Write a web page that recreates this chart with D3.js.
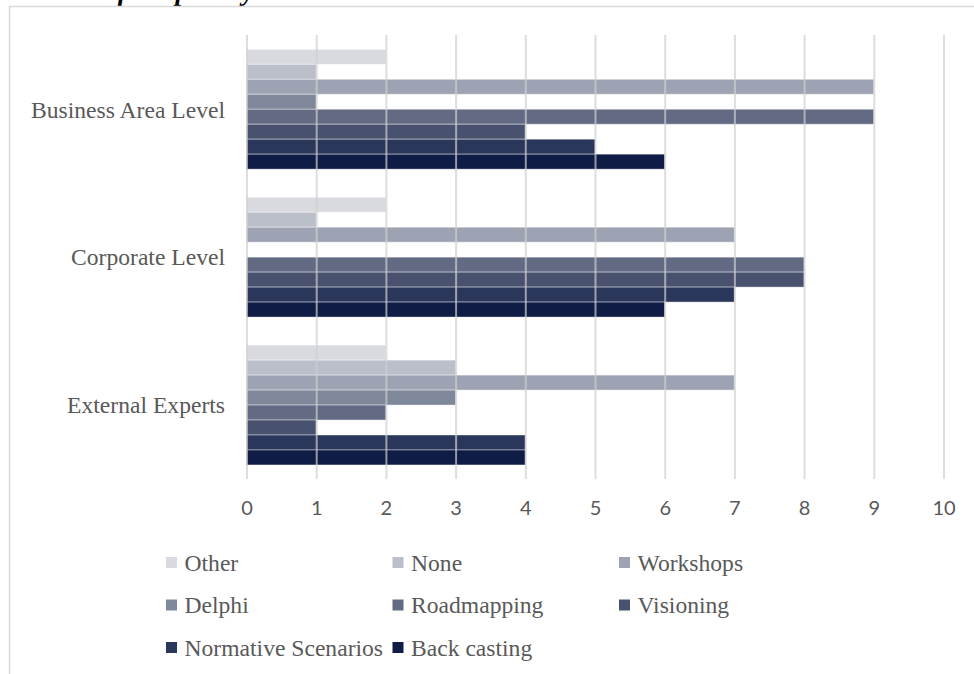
<!DOCTYPE html>
<html>
<head>
<meta charset="utf-8">
<script src="https://cdn.jsdelivr.net/npm/d3@7"></script>
<style>
  html, body { margin: 0; padding: 0; background: #fff; }
  svg { display: block; }
</style>
</head>
<body>
<svg id="chart" width="974" height="674"></svg>
<script>
// Groups of respondents, top to bottom
const categories = ["Business Area Level", "Corporate Level", "External Experts"];

// Methods, in the order they are stacked inside each group
const seriesNames = ["Other", "None", "Workshops", "Delphi", "Roadmapping", "Visioning", "Normative Scenarios", "Back casting"];
const seriesColors = ["#d9dae0", "#bbbfca", "#9ea3b3", "#7f879a", "#636b84", "#48526f", "#2b375a", "#0f1c45"];

// Counts per method, one array per method (Business Area, Corporate, External)
const other       = [2, 2, 2];
const none        = [1, 1, 3];
const workshops   = [9, 7, 7];
const delphi      = [1, 0, 3];
const roadmapping = [9, 8, 2];
const visioning   = [4, 8, 1];
const normative   = [5, 7, 4];
const backcasting = [6, 6, 4];
const seriesValues = [other, none, workshops, delphi, roadmapping, visioning, normative, backcasting];

const xTicks = [0, 1, 2, 3, 4, 5, 6, 7, 8, 9, 10];

const svg = d3.select("#chart");

// caption line above the chart frame, mostly cut off by the page edge
svg.append("text")
  .attr("x", 30).attr("y", -0.5)
  .attr("font-family", "'Liberation Serif', serif")
  .attr("font-style", "italic")
  .attr("font-weight", "bold")
  .attr("font-size", 27)
  .attr("fill", "#000")
  .text("Phase of Outputs by a best");

// chart frame
svg.append("rect")
  .attr("x", 9.5).attr("y", 6.5)
  .attr("width", 1000).attr("height", 700)
  .attr("fill", "#fff")
  .attr("stroke", "#d9d9d9").attr("stroke-width", 1.5);

const x = d3.scaleLinear().domain([0, 10]).range([246.5, 943.5]);
const y = d3.scaleBand().domain(categories).range([35.3, 479])
  .paddingInner(0.19).paddingOuter(0.095);
const yInner = d3.scaleBand().domain(seriesNames).range([0, y.bandwidth()]);

const rows = [];
categories.forEach((c, ci) => {
  seriesNames.forEach((s, si) => {
    rows.push({ cat: c, series: s, value: seriesValues[si][ci], color: seriesColors[si] });
  });
});

// bars
svg.append("g")
  .selectAll("rect")
  .data(rows.filter(d => d.value > 0))
  .join("rect")
  .attr("x", x(0))
  .attr("y", d => y(d.cat) + yInner(d.series))
  .attr("width", d => x(d.value) - x(0))
  .attr("height", yInner.bandwidth())
  .attr("fill", d => d.color)
  .attr("stroke", "rgba(255,255,255,0.4)")
  .attr("stroke-width", 1);

// vertical gridlines, faintly visible through the bars
const grid = svg.append("g")
  .attr("transform", `translate(0,${y.range()[1]})`)
  .call(d3.axisBottom(x).tickValues(xTicks).tickSize(-(y.range()[1] - 35)).tickFormat(""));
grid.select(".domain").remove();
grid.selectAll(".tick line")
  .attr("stroke", "#cfcfcf").attr("stroke-opacity", 0.7).attr("stroke-width", 2);

// value axis labels
const xAxis = svg.append("g")
  .attr("transform", `translate(0,${y.range()[1]})`)
  .call(d3.axisBottom(x).tickValues(xTicks).tickSize(0).tickPadding(22));
xAxis.select(".domain").remove();
xAxis.selectAll("text")
  .attr("font-family", "Lato, 'Open Sans', sans-serif")
  .attr("font-size", 20)
  .attr("fill", "#595959");

// category labels
svg.append("g")
  .selectAll("text")
  .data(categories)
  .join("text")
  .attr("x", 225)
  .attr("y", d => y(d) + y.bandwidth() / 2)
  .attr("dy", "0.35em")
  .attr("text-anchor", "end")
  .attr("font-family", "'Liberation Serif', serif")
  .attr("font-size", 23.6)
  .attr("fill", "#595959")
  .text(d => d);

// legend: three columns
const legendCols = [166, 392.5, 619];
const legendRows = [562.5, 605, 647.5];
const legend = svg.append("g")
  .selectAll("g")
  .data(seriesNames)
  .join("g")
  .attr("transform", (d, i) => `translate(${legendCols[i % 3]},${legendRows[Math.floor(i / 3)]})`);
legend.append("rect")
  .attr("x", 0).attr("y", -5.5)
  .attr("width", 11).attr("height", 11)
  .attr("fill", (d, i) => seriesColors[i]);
legend.append("text")
  .attr("x", 18.5).attr("y", 0)
  .attr("dy", "0.35em")
  .attr("font-family", "'Liberation Serif', serif")
  .attr("font-size", 23.6)
  .attr("fill", "#595959")
  .text(d => d);
</script>
</body>
</html>
